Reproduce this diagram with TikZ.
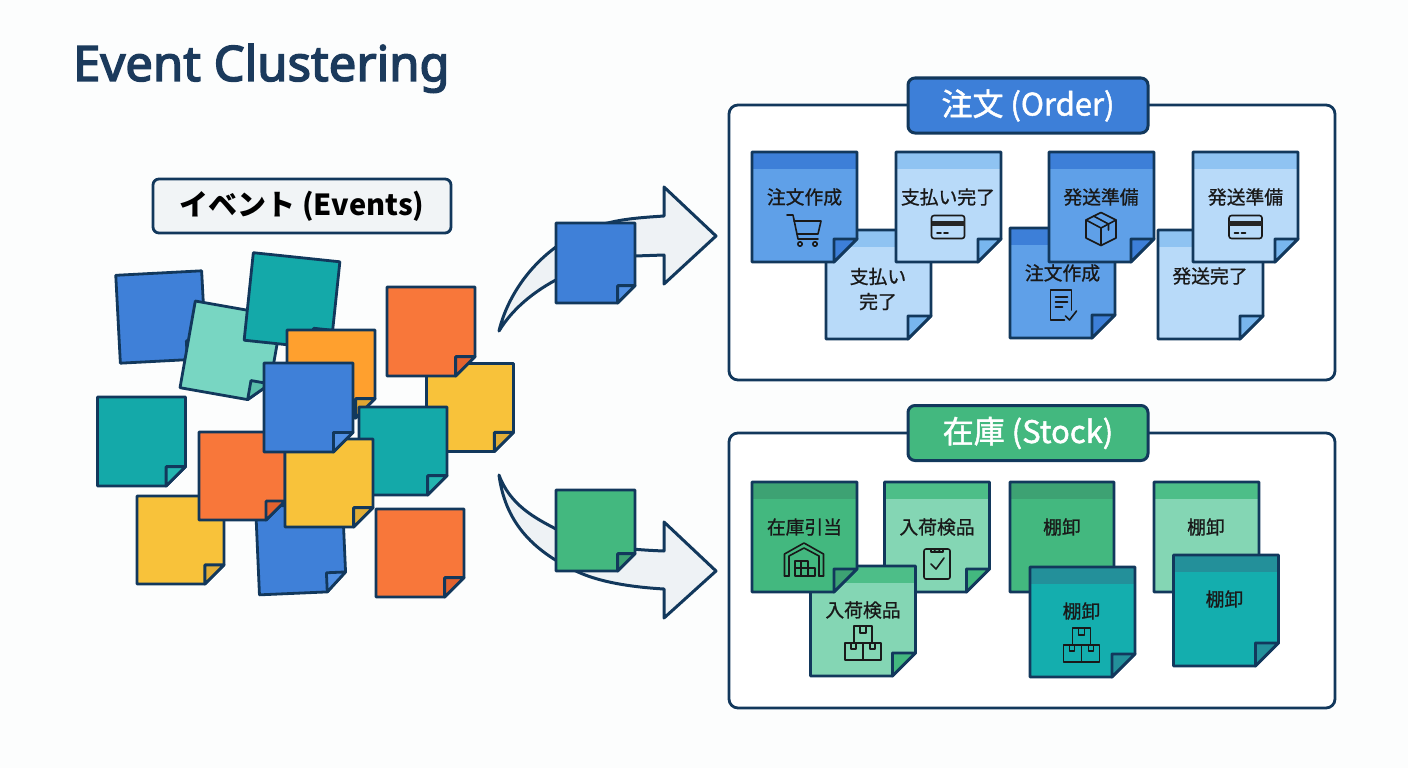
\documentclass[tikz,border=0pt]{standalone}
\usepackage{fontspec}
\usepackage{xcolor}
\setmainfont{Noto Sans}
\newfontfamily\titlefont[FakeBold=3]{Noto Sans}
\newfontfamily\cjk{Noto Sans CJK JP}
\newfontfamily\cjkmed[FakeBold=0.9]{Noto Sans CJK JP}
\newfontfamily\cjkhead[FakeBold=1.5]{Noto Sans CJK JP}
\definecolor{ink-navy}{RGB}{18,56,92}
\definecolor{title-navy}{RGB}{27,58,92}
\definecolor{paper}{RGB}{252,253,253}
\definecolor{arrow-grey}{RGB}{238,242,245}
\definecolor{label-grey}{RGB}{241,244,246}
% pile colours
\definecolor{blue-note}{RGB}{63,128,216}\definecolor{blue-band}{RGB}{63,128,216}\definecolor{blue-flap}{RGB}{80,144,228}
\definecolor{teal-note}{RGB}{20,169,169}\definecolor{teal-band}{RGB}{20,169,169}\definecolor{teal-flap}{RGB}{36,182,176}
\definecolor{mint-note}{RGB}{120,214,194}\definecolor{mint-band}{RGB}{120,214,194}\definecolor{mint-flap}{RGB}{90,190,170}
\definecolor{amber-note}{RGB}{255,160,46}\definecolor{amber-band}{RGB}{255,160,46}\definecolor{amber-flap}{RGB}{226,165,50}
\definecolor{orange-note}{RGB}{248,119,58}\definecolor{orange-band}{RGB}{248,119,58}\definecolor{orange-flap}{RGB}{226,98,46}
\definecolor{yellow-note}{RGB}{248,194,58}\definecolor{yellow-band}{RGB}{248,194,58}\definecolor{yellow-flap}{RGB}{226,174,54}
\definecolor{green-note}{RGB}{67,184,127}\definecolor{green-band}{RGB}{67,184,127}\definecolor{green-flap}{RGB}{61,162,115}
% cluster colours
\definecolor{dkblue-note}{RGB}{95,160,232}\definecolor{dkblue-band}{RGB}{61,127,216}\definecolor{dkblue-flap}{RGB}{61,127,216}
\definecolor{ltblue-note}{RGB}{184,218,249}\definecolor{ltblue-band}{RGB}{143,195,242}\definecolor{ltblue-flap}{RGB}{120,182,238}
\definecolor{dkgreen-note}{RGB}{67,184,127}\definecolor{dkgreen-band}{RGB}{61,162,115}\definecolor{dkgreen-flap}{RGB}{61,162,115}
\definecolor{ltgreen-note}{RGB}{132,214,180}\definecolor{ltgreen-band}{RGB}{77,190,136}\definecolor{ltgreen-flap}{RGB}{67,184,127}
\definecolor{sea-note}{RGB}{20,174,174}\definecolor{sea-band}{RGB}{35,144,154}\definecolor{sea-flap}{RGB}{35,144,154}
\definecolor{head-blue}{RGB}{61,127,216}
\definecolor{head-green}{RGB}{67,184,127}

% sticky note: colour, centre x, centre y, width, height, rotation
\newcommand{\sticky}[6]{%
  \begin{scope}[shift={(#2,#3)},rotate=#6,line width=2.8pt,draw=ink-navy,line join=round]
    \pgfmathsetmacro{\hw}{#4/2}\pgfmathsetmacro{\hh}{#5/2}\pgfmathsetmacro{\fd}{#4*0.22}
    \fill[#1-note] (-\hw,-\hh) -- (\hw,-\hh) -- (\hw,\hh-\fd) -- (\hw-\fd,\hh) -- (-\hw,\hh) -- cycle;
    \fill[#1-band] (-\hw,-\hh) rectangle (\hw,-\hh+17);
    \draw (-\hw,-\hh) -- (\hw,-\hh) -- (\hw,\hh-\fd) -- (\hw-\fd,\hh) -- (-\hw,\hh) -- cycle;
    \draw[fill=#1-flap] (\hw-\fd,\hh) -- (\hw-\fd,\hh-\fd) -- (\hw,\hh-\fd) -- cycle;
  \end{scope}}

\tikzset{
  cart/.pic={
    \draw (-17,-15) -- (-11,-15) -- (-6,9) -- (14,9);
    \draw (-10,-9) -- (17,-9) -- (14,4) -- (-7,4);
    \draw (-4,14) circle (2.2) (11,14) circle (2.2);
  },
  card/.pic={
    \draw[rounded corners=2.5] (-16.5,-11.5) rectangle (16.5,11.5);
    \fill[black!85] (-16.5,-6) rectangle (16.5,-1);
    \draw (-11,6) -- (-7,6) (-4,6) -- (0,6);
  },
  parcel/.pic={
    \draw (0,-16.5) -- (15,-9) -- (15,9) -- (0,16.5) -- (-15,9) -- (-15,-9) -- cycle;
    \draw (-15,-9) -- (0,-1) -- (15,-9) (0,-1) -- (0,16.5);
    \draw (-7.5,-13) -- (7.5,-5) -- (7.5,1);
  },
  docheck/.pic={
    \draw (2,15) -- (-12,15) -- (-12,-15) -- (9,-15) -- (9,5);
    \draw (-7,-8) -- (5,-8) (-7,-3) -- (5,-3) (-7,2) -- (0,2);
    \draw (3,11) -- (7,15) -- (14,6);
  },
  warehouse/.pic={
    \draw (-19.5,16) -- (-19.5,-6) -- (0,-17) -- (19.5,-6) -- (19.5,16);
    \draw (-15,16) -- (-15,-4) -- (0,-12) -- (15,-4) -- (15,16);
    \draw (-9,1) rectangle (4,16) (4,8) rectangle (11,16);
    \draw (-9,8) -- (4,8) (-3,1) -- (-3,16);
    \draw (-19.5,16) -- (-15,16) (15,16) -- (19.5,16);
  },
  clipboard/.pic={
    \draw[rounded corners=2] (-13,-13) rectangle (13,17);
    \draw[fill=ltgreen-note] (-6,-10) -- (-6,-13) -- (-3,-13) arc (180:0:3) -- (6,-13) -- (6,-10) -- cycle;
    \draw (-6,2) -- (-1,7) -- (7,-4);
  },
  cartons/.pic={
    \draw (-9,-17) rectangle (9,0) (-18,0) rectangle (0,17) (0,0) rectangle (18,17);
    \draw (-3,-17) -- (-3,-10) -- (3,-10) -- (3,-17);
    \draw (-12,0) -- (-12,6) -- (-7,6) -- (-7,0) (7,0) -- (7,6) -- (12,6) -- (12,0);
  }
}

\begin{document}
\begin{tikzpicture}[
    x=1pt, y=-1pt,
    frame/.style={rectangle, draw=ink-navy, line width=2.8pt, fill=white, rounded corners=9pt, minimum width=606pt, minimum height=275pt},
    header/.style={rectangle, draw=ink-navy, line width=3pt, rounded corners=7pt, minimum width=240pt, minimum height=55pt, text=white, font=\cjkhead\fontsize{31}{34}\selectfont},
    chip/.style={rectangle, draw=ink-navy, line width=2.8pt, fill=label-grey, rounded corners=6pt, minimum width=298pt, minimum height=54pt, font=\cjk\bfseries\fontsize{29}{32}\selectfont},
    memo/.style={font=\cjkmed\fontsize{18.8}{25}\selectfont, align=center, text=black!90, inner sep=0pt},
    glyph/.style={draw=black!90, line width=1.6pt, line join=round, line cap=round},
    bigarrow/.style={draw=ink-navy, line width=3pt, fill=arrow-grey, line join=round}
]
\useasboundingbox[fill=paper] (0,0) rectangle (1408,768);

% Title
\node[anchor=base west, inner sep=0pt, text=title-navy, font=\titlefont\fontsize{49}{52}\selectfont] (title) at (73,81) {Event Clustering};

% Events pile
\node[chip] (events) at (302,206) {イベント (Events)};
\sticky{blue}{161}{317}{86}{88}{3}
\sticky{mint}{231}{352}{88}{88}{-10}
\sticky{teal}{292}{301}{87}{88}{-6}
\sticky{amber}{331}{374}{88}{88}{0}
\sticky{yellow}{470}{407.5}{87}{88}{0}
\sticky{orange}{431}{331.5}{88}{89}{0}
\sticky{teal}{403}{451}{88}{88}{0}
\sticky{teal}{141.5}{441.5}{88}{89}{0}
\sticky{yellow}{180.5}{540}{87}{88}{0}
\sticky{blue}{301}{549}{87}{88}{2.5}
\sticky{orange}{242}{476}{86}{88}{0}
\sticky{yellow}{329}{483}{88}{88}{0}
\sticky{blue}{308.5}{407.5}{89}{89}{0}
\sticky{orange}{420}{553}{88}{88}{0}

% Arrows
\path[bigarrow] (499,331) .. controls (510,285) and (550,235) .. (612,222) .. controls (630,218) and (650,217) .. (664,216) -- (664,187) -- (716,236) -- (664,284) -- (664,255) -- (635,256) .. controls (600,258) and (530,280) .. (499,331) -- cycle;
\sticky{blue}{595.5}{263}{79}{80}{0}
\path[bigarrow] (499,475) .. controls (510,505) and (535,518) .. (556,529) .. controls (580,542) and (610,549) .. (664,551) -- (664,522) -- (716,571) -- (664,618) -- (664,589) .. controls (630,587) and (600,582) .. (578,572) .. controls (530,550) and (505,520) .. (499,475) -- cycle;
\sticky{green}{595.5}{530.5}{79}{81}{0}

% Order cluster
\node[frame] (orderbox) at (1032,242.5) {};
\node[header, fill=head-blue] (order) at (1028,105.5) {注文 (Order)};
\sticky{ltblue}{878.5}{284.5}{105}{109}{0}
\sticky{dkblue}{804.5}{207}{105}{110}{0}
\sticky{ltblue}{948.5}{207}{105}{110}{0}
\node[memo] (m1) at (804.5,197) {注文作成};
\pic[glyph] at (804,230) {cart};
\node[memo] (m2) at (878,289) {支払い\\完了};
\node[memo] (m3) at (948,197) {支払い完了};
\pic[glyph] at (948,227) {card};
\sticky{dkblue}{1062.5}{283}{105}{110}{0}
\sticky{dkblue}{1101.5}{207}{105}{110}{0}
\node[memo] (m4) at (1062.5,273) {注文作成};
\pic[glyph] at (1062.5,305) {docheck};
\node[memo] (m5) at (1101,197) {発送準備};
\pic[glyph] at (1101,229) {parcel};
\sticky{ltblue}{1210.5}{284.5}{105}{109}{0}
\sticky{ltblue}{1245.5}{207}{105}{110}{0}
\node[memo] (m6) at (1210,276) {発送完了};
\node[memo] (m7) at (1245.5,197) {発送準備};
\pic[glyph] at (1245.5,227) {card};

% Stock cluster
\node[frame] (stockbox) at (1032,570.5) {};
\node[header, fill=head-green] (stock) at (1028,433) {在庫 (Stock)};
\sticky{ltgreen}{937}{537}{105}{110}{0}
\sticky{ltgreen}{863}{621}{105}{110}{0}
\sticky{dkgreen}{804.5}{537}{105}{110}{0}
\node[memo] (s1) at (804.5,527) {在庫引当};
\pic[glyph] at (804,560) {warehouse};
\node[memo] (s2) at (937,527) {入荷検品};
\pic[glyph] at (937,562) {clipboard};
\node[memo] (s3) at (863,610) {入荷検品};
\pic[glyph] at (863,643) {cartons};
\sticky{dkgreen}{1062}{537}{104}{110}{0}
\sticky{sea}{1082.5}{622}{105}{110}{0}
\node[memo] (s4) at (1062,527) {棚卸};
\node[memo] (s5) at (1081.5,611) {棚卸};
\pic[glyph] at (1081.5,645) {cartons};
\sticky{ltgreen}{1206.5}{537}{105}{110}{0}
\sticky{sea}{1226}{610.5}{105}{111}{0}
\node[memo] (s6) at (1206,527) {棚卸};
\node[memo] (s7) at (1224.5,599) {棚卸};

\end{tikzpicture}
\end{document}
